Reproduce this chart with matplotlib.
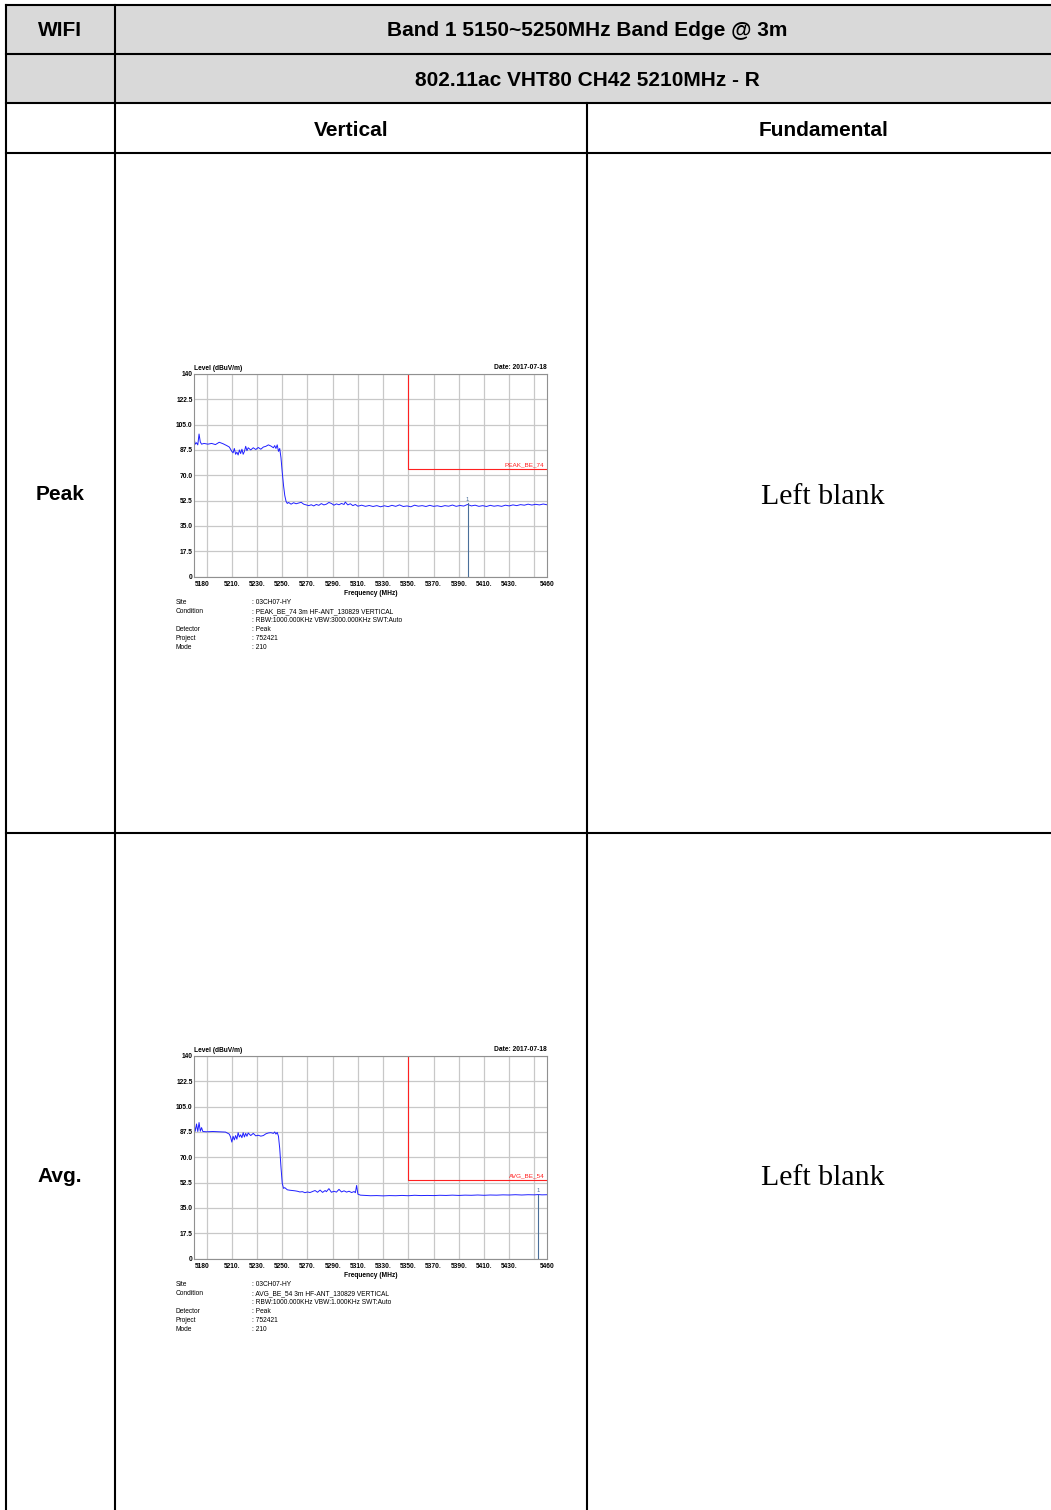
import matplotlib
matplotlib.use('Agg')
import matplotlib.pyplot as plt
from matplotlib.patches import Rectangle

# table texts
header_title = 'Band 1 5150~5250MHz Band Edge @ 3m'
header_mode = '802.11ac VHT80 CH42 5210MHz - R'
col_titles = ['Vertical', 'Fundamental']
row_titles = ['Peak', 'Avg.']
blank_text = 'Left blank'

# chart axes
y_ticks = [0, 17.5, 35.0, 52.5, 70.0, 87.5, 105.0, 122.5, 140]
y_labels = ['0', '17.5', '35.0', '52.5', '70.0', '87.5', '105.0', '122.5', '140']
x_grid = [5190, 5210, 5230, 5250, 5270, 5290, 5310, 5330, 5350, 5370, 5390, 5410, 5430, 5450]
x_label_pos = [5180, 5210, 5230, 5250, 5270, 5290, 5310, 5330, 5350, 5370, 5390, 5410, 5430, 5460]
x_labels = ['5180', '5210.', '5230.', '5250.', '5270.', '5290.', '5310.', '5330.', '5350.',
            '5370.', '5390.', '5410.', '5430.', '5460']

# measured traces (MHz, dBuV/m)
peak_trace = [(5180, 95.5), (5181, 91.5), (5182, 92.5), (5183, 91.0), (5184, 98.5), (5185, 93.0),
              (5186, 91.5), (5188, 92.0), (5191, 91.5), (5194, 92.0), (5197, 91.2), (5200, 92.8),
              (5203, 91.8), (5206, 90.5), (5208, 89.5), (5209, 88.0), (5210, 86.5), (5211, 85.5),
              (5212, 88.5), (5213, 84.5), (5214, 86.0), (5215, 84.0), (5216, 87.5), (5217, 85.0),
              (5218, 88.0), (5219, 84.5), (5220, 86.5), (5221, 90.0), (5222, 87.0), (5223, 89.0),
              (5225, 87.5), (5227, 89.0), (5229, 87.8), (5231, 89.2), (5233, 88.0), (5235, 89.5),
              (5237, 90.0), (5239, 91.0), (5241, 90.2), (5243, 89.0), (5244, 90.5), (5245, 88.5),
              (5246, 91.0), (5247, 86.5), (5248, 88.5), (5249, 82.0), (5250, 72.0), (5251, 63.0),
              (5252, 56.0), (5253, 52.0), (5254, 50.5), (5255, 51.2), (5257, 50.0), (5259, 51.0),
              (5261, 50.3), (5263, 50.8), (5265, 51.3), (5267, 50.0), (5269, 49.5), (5271, 49.0),
              (5273, 49.6), (5275, 48.8), (5277, 49.8), (5279, 49.2), (5281, 50.4), (5283, 49.5),
              (5285, 50.0), (5287, 51.2), (5289, 50.5), (5291, 49.3), (5293, 50.2), (5295, 49.6),
              (5297, 50.5), (5299, 49.8), (5300, 51.5), (5302, 49.5), (5304, 50.3), (5306, 49.0),
              (5308, 49.8), (5310, 48.6), (5313, 49.3), (5316, 48.5), (5319, 49.1), (5322, 48.4),
              (5325, 49.0), (5328, 48.2), (5331, 48.9), (5334, 48.3), (5337, 49.2), (5340, 48.5),
              (5343, 49.5), (5346, 48.4), (5349, 48.8), (5352, 48.2), (5355, 49.3), (5358, 48.6),
              (5361, 49.0), (5364, 48.4), (5367, 49.2), (5370, 48.5), (5373, 48.9), (5376, 48.3),
              (5379, 49.0), (5382, 48.6), (5385, 49.4), (5388, 48.5), (5391, 49.1), (5394, 48.7),
              (5397, 49.8), (5400, 48.8), (5403, 49.3), (5406, 48.5), (5409, 49.0), (5412, 48.4),
              (5415, 49.2), (5418, 48.6), (5421, 49.0), (5424, 48.5), (5427, 49.3), (5430, 48.8),
              (5433, 49.5), (5436, 49.0), (5439, 49.7), (5442, 49.3), (5445, 50.0), (5448, 49.4),
              (5451, 49.9), (5454, 49.5), (5457, 50.1), (5460, 49.6)]

avg_trace = [(5180, 93.5), (5181, 88.0), (5182, 93.0), (5183, 87.8), (5184, 94.0), (5185, 88.0),
             (5186, 90.5), (5187, 87.8), (5190, 87.6), (5195, 87.8), (5200, 87.6), (5205, 87.4),
             (5208, 86.0), (5209, 84.0), (5210, 80.5), (5211, 84.5), (5212, 82.0), (5213, 85.0),
             (5214, 82.5), (5215, 87.0), (5216, 84.0), (5217, 85.5), (5218, 83.5), (5219, 87.0),
             (5220, 84.0), (5221, 86.5), (5222, 84.5), (5223, 86.8), (5225, 85.0), (5227, 86.5),
             (5229, 84.8), (5231, 85.2), (5233, 84.6), (5235, 85.0), (5237, 86.2), (5239, 86.8),
             (5241, 87.0), (5243, 86.5), (5244, 87.5), (5245, 86.0), (5246, 87.2), (5247, 84.5),
             (5248, 76.0), (5249, 63.0), (5250, 52.0), (5251, 48.5), (5252, 49.0), (5254, 47.5),
             (5256, 47.2), (5258, 47.0), (5260, 46.8), (5262, 46.5), (5264, 46.0), (5266, 46.2),
             (5268, 45.5), (5270, 46.0), (5272, 45.6), (5274, 46.3), (5276, 47.0), (5278, 45.8),
             (5280, 47.3), (5282, 45.7), (5284, 47.0), (5285, 46.2), (5287, 48.3), (5289, 45.8),
             (5291, 46.5), (5293, 45.9), (5295, 47.8), (5297, 46.0), (5299, 46.8), (5301, 45.9),
             (5303, 46.5), (5305, 45.6), (5307, 46.3), (5308, 45.5), (5309, 50.5), (5310, 44.5),
             (5312, 43.8), (5316, 43.6), (5320, 43.4), (5325, 43.5), (5330, 43.3), (5335, 43.5),
             (5340, 43.4), (5345, 43.6), (5350, 43.4), (5355, 43.7), (5360, 43.5), (5365, 43.6),
             (5370, 43.5), (5375, 43.7), (5380, 43.6), (5385, 43.8), (5390, 43.6), (5395, 43.8),
             (5400, 43.7), (5405, 43.9), (5410, 43.7), (5415, 43.9), (5420, 43.8), (5425, 44.0),
             (5430, 43.9), (5435, 44.1), (5440, 43.9), (5445, 44.1), (5450, 44.0), (5453, 44.2),
             (5456, 44.0), (5460, 44.1)]

peak_limit = 74
avg_limit = 54
limit_start = 5350
peak_marker = (5397, 50.5)
avg_marker = (5453, 44.2)
date_text = 'Date: 2017-07-18'

info_keys = ['Site', 'Condition', '', 'Detector', 'Project', 'Mode']
peak_info = [': 03CH07-HY', ': PEAK_BE_74 3m HF-ANT_130829 VERTICAL',
             ': RBW:1000.000KHz VBW:3000.000KHz SWT:Auto', ': Peak', ': 752421', ': 210']
avg_info = [': 03CH07-HY', ': AVG_BE_54 3m HF-ANT_130829 VERTICAL',
            ': RBW:1000.000KHz VBW:1.000KHz SWT:Auto', ': Peak', ': 752421', ': 210']

W, H = 1051, 1510
fig = plt.figure(figsize=(W / 100, H / 100), dpi=100)

# background axes in pixel coordinates for the table
bg = fig.add_axes([0, 0, 1, 1])
bg.set_xlim(0, W)
bg.set_ylim(H, 0)
bg.axis('off')

bg.add_patch(Rectangle((6, 5), W - 6, 98, facecolor='#d9d9d9', edgecolor='none'))
lw = 1.5
for yy in [5, 53.5, 103, 153, 832.5]:
    bg.plot([6, W], [yy, yy], color='black', lw=lw, solid_capstyle='projecting')
bg.plot([6, 6], [5, H], color='black', lw=lw)
bg.plot([115, 115], [5, H], color='black', lw=lw)
bg.plot([587, 587], [103, H], color='black', lw=lw)

hfont = dict(family='Liberation Sans', weight='bold', fontsize=15, ha='center', va='center')
bg.text(60, 31, 'WIFI', **hfont)
bg.text(587, 31, header_title, **hfont)
bg.text(587, 80, header_mode, **hfont)
bg.text(351, 130, col_titles[0], **hfont)
bg.text(824, 130, col_titles[1], **hfont)
bg.text(60, 495, row_titles[0], **hfont)
bg.text(60, 1176, row_titles[1], **hfont)
for yy in [497, 1178]:
    bg.text(823, yy, blank_text, family='Liberation Serif', fontsize=21.5, ha='center', va='center')


def draw_chart(top, trace, limit, limit_name, marker, info):
    left, right, bottom = 194, 547, top + 202.5
    ax = fig.add_axes([left / W, 1 - bottom / H, (right - left) / W, (bottom - top) / H])
    freq = [p[0] for p in trace]
    level = [p[1] for p in trace]
    ax.set_xlim(5180, 5460)
    ax.set_ylim(0, 140)
    ax.set_xticks(x_grid)
    ax.set_xticklabels([])
    ax.set_yticks(y_ticks)
    ax.set_yticklabels(y_labels, fontsize=4.8, fontweight='bold', family='Liberation Sans')
    ax.tick_params(length=0, pad=1)
    ax.grid(True, color='#c8c8c8', lw=0.9)
    for s in ax.spines.values():
        s.set_color('#909090')
        s.set_linewidth(0.8)
    ax.plot(freq, level, color='#2020ff', lw=0.7)
    # limit line
    ax.plot([limit_start, limit_start, 5460], [140, limit, limit], color='#ff2020', lw=0.8)
    ax.text(5458, limit + 1.5, limit_name, color='#ff2020', fontsize=4.6,
            family='Liberation Sans', ha='right', va='bottom')
    # marker
    ax.plot([marker[0], marker[0]], [0, marker[1]], color='#4a6f9a', lw=0.8)
    ax.text(marker[0], marker[1] + 1, '1', color='#4a6f9a', fontsize=4.2,
            family='Liberation Sans', ha='center', va='bottom')
    # x labels
    trans = ax.get_xaxis_transform()
    for xp, lab in zip(x_label_pos, x_labels):
        ha = 'center'
        xx = xp
        if xp == 5180:
            ha, xx = 'left', 5181
        ax.text(xx, -0.02, lab, transform=trans, fontsize=4.8, fontweight='bold',
                family='Liberation Sans', ha=ha, va='top')
    ax.text(0.5, -0.065, 'Frequency (MHz)', transform=ax.transAxes, fontsize=4.8,
            fontweight='bold', family='Liberation Sans', ha='center', va='top')
    ax.text(0, 1.01, 'Level (dBuV/m)', transform=ax.transAxes, fontsize=4.8,
            fontweight='bold', family='Liberation Sans', ha='left', va='bottom')
    ax.text(1, 1.015, date_text, transform=ax.transAxes, fontsize=4.8,
            fontweight='bold', family='Liberation Sans', ha='right', va='bottom')
    # info block under the chart
    y0 = bottom + 26.5
    for i, (k, v) in enumerate(zip(info_keys, info)):
        yy = y0 + i * 8.9
        bg.text(176, yy, k, fontsize=4.8, family='Liberation Sans', ha='left', va='center')
        bg.text(251.5, yy, v, fontsize=4.8, family='Liberation Sans', ha='left', va='center')


draw_chart(374, peak_trace, peak_limit, 'PEAK_BE_74', peak_marker, peak_info)
draw_chart(1056, avg_trace, avg_limit, 'AVG_BE_54', avg_marker, avg_info)

fig.savefig('out.png', dpi=100)
